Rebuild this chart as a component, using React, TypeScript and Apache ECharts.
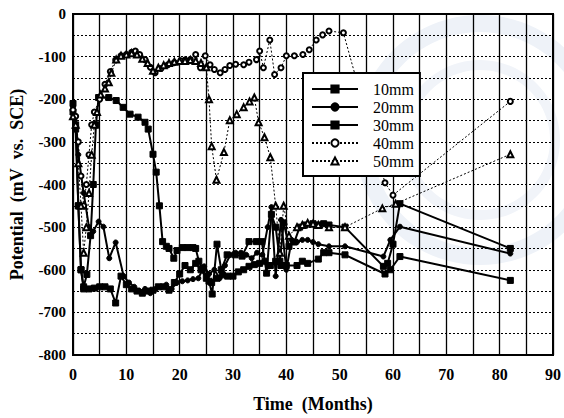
import React, { useEffect, useRef } from "react";
import * as echarts from "echarts";

const seriesNames = ["10mm", "20mm", "30mm", "40mm", "50mm"];
const xTicks = [0, 10, 20, 30, 40, 50, 60, 70, 80, 90];
const yTicks = [0, -100, -200, -300, -400, -500, -600, -700, -800];

const s10: [number, number][] = [
  [0, -210], [0.5, -260], [1, -450], [1.5, -600], [2, -645], [3, -645], [4, -643], [5, -640], [6, -640],
  [7, -645], [8, -678], [9, -615], [10, -635], [11, -645], [12, -650], [13, -655], [14, -650], [15, -648],
  [16, -640], [17, -640], [18, -648], [19, -630], [20, -610], [21, -590], [22, -600], [23, -585], [24, -600],
  [25, -620], [26, -630], [27, -620], [28, -612], [29, -615], [30, -615], [31, -605], [32, -600], [33, -592],
  [34, -588], [35, -585], [36, -580], [37, -590], [38, -580], [39, -590], [40, -590], [42, -590], [43, -580],
  [44, -585], [46, -575], [47, -560], [48, -560], [51, -565], [58.5, -610], [59.5, -600], [61.3, -569], [82, -625],
];

const s20: [number, number][] = [
  [0, -220], [0.5, -240], [1, -330], [2, -420], [3, -500], [3.8, -510], [4.8, -487], [5.7, -499], [6.8, -573],
  [8, -536], [9.5, -615], [10.5, -630], [11.5, -640], [12.5, -650], [13.5, -645], [14.5, -655], [15.5, -645],
  [16.5, -640], [17.5, -635], [18.5, -645], [19.5, -630], [20.5, -627], [21.5, -625], [22.5, -622], [23.5, -620],
  [24.6, -592], [25.5, -610], [26.5, -600], [27.5, -620], [28.5, -590], [29.5, -565], [30.5, -560], [31.5, -560],
  [32.5, -565], [33.5, -573], [34.5, -560], [35.5, -565], [36.5, -500], [37.2, -453], [38, -615], [39, -483],
  [40, -600], [41, -530], [42, -535], [43, -530], [44, -530], [45, -535], [46, -540], [48, -545], [51, -545],
  [58.2, -569], [59.5, -530], [61.3, -499], [82, -562],
];

const s30: [number, number][] = [
  [0, -230], [0.5, -270], [1, -450], [1.5, -600], [2, -640], [2.6, -611], [3.3, -520], [3.8, -400], [4.3, -260],
  [4.8, -196], [6.7, -196], [8.1, -203], [9.4, -219], [10.7, -235], [12.2, -242], [13.5, -254], [14.1, -270],
  [15, -329], [15.6, -371], [16.2, -450], [16.8, -534], [17.5, -545], [18, -550], [18.9, -573], [19.5, -555],
  [20.5, -548], [21.5, -548], [22.5, -548], [23, -550], [23.6, -580], [24.3, -597], [25.5, -627], [26.1, -657],
  [27, -540], [27.8, -600], [28.9, -565], [30.4, -565], [31.7, -568], [33, -534], [34.4, -534], [35.4, -534],
  [36.3, -608], [37.2, -470], [38, -500], [38.8, -580], [39.5, -490], [40.5, -545], [41.5, -535], [42.5, -500],
  [43.5, -495], [45, -492], [46, -495], [47, -492], [48, -495], [51, -500], [58.2, -592], [59, -585], [60, -540],
  [61.3, -445], [82, -550],
];

const s40: [number, number][] = [
  [0, -225], [0.5, -240], [1, -300], [1.5, -380], [2, -450], [2.5, -400], [3, -330], [3.5, -260], [4, -230],
  [5, -200], [6, -165], [7, -135], [8, -108], [9, -98], [10, -95], [11, -90], [11.7, -87], [12.5, -95],
  [13.5, -107], [14.5, -125], [15.4, -138], [16.5, -128], [17.8, -119], [19, -114], [20.2, -110], [21, -108],
  [22, -107], [23, -95], [23.9, -126], [24.8, -98], [25.7, -119], [26.5, -130], [27.6, -138], [28.5, -130],
  [29.4, -121], [30.5, -118], [32, -119], [33, -113], [34.4, -107], [35, -87], [35.7, -126], [36.9, -61],
  [37.8, -142], [39, -126], [40, -98], [41.5, -98], [43.1, -95], [44.3, -84], [45.6, -61], [46.8, -49],
  [48, -40], [50.7, -44], [58.5, -396], [60, -425], [82, -205],
];

const s50: [number, number][] = [
  [0, -240], [0.5, -260], [1, -350], [1.5, -450], [2, -560], [2.5, -500], [3, -420], [3.5, -330], [4, -260],
  [4.5, -230], [5.2, -189], [6, -175], [6.7, -160], [7.2, -138], [8.1, -107], [9, -98], [10, -95], [11, -92],
  [12, -95], [13, -105], [14, -115], [15, -133], [16, -126], [17, -120], [18, -115], [19, -112], [20, -110],
  [21, -110], [22, -108], [23, -110], [24, -115], [25, -125], [25.5, -200], [26, -310], [26.9, -389],
  [28.3, -324], [29.4, -249], [30.7, -235], [32, -219], [33.1, -205], [34, -196], [34.8, -254], [35.9, -289],
  [37, -336], [38, -450], [38.8, -560], [39.5, -450], [40.5, -520], [42, -500], [43, -495], [44, -490],
  [45, -492], [46, -495], [48, -500], [51, -500], [58, -456], [60.5, -445], [82, -329],
];

const FONT = "Liberation Serif";

export default function App() {
  const ref = useRef<HTMLDivElement>(null);
  useEffect(() => {
    if (!ref.current) return;
    const chart = echarts.init(ref.current, undefined, { renderer: "svg" });
    const solid = { color: "#000", width: 2 };
    const dotted = { color: "#000", width: 1, type: [2, 2] as number[] };
    const mk = (name: string, data: [number, number][], symbol: string, size: number, line: any) => ({
      name,
      type: "line",
      data,
      symbol,
      symbolSize: size,
      showSymbol: true,
      lineStyle: line,
      itemStyle: { color: "#000", borderColor: "#000", borderWidth: 1 },
      emphasis: { disabled: true },
    });
    chart.setOption({
      animation: false,
      backgroundColor: "#fff",
      textStyle: { fontFamily: FONT },
      graphic: [
        {
          type: "ring",
          z: -10,
          silent: true,
          shape: { cx: 480, cy: 140, r: 125, r0: 108 },
          style: { fill: "#eef2f8" },
        },
        {
          type: "ring",
          z: -10,
          silent: true,
          shape: { cx: 480, cy: 140, r: 80, r0: 70 },
          style: { fill: "#f1f4f9" },
        },
      ],
      grid: { left: 72, top: 14, right: 6, bottom: 60, show: true, borderColor: "#000", borderWidth: 2, backgroundColor: "transparent" },
      legend: {
        data: seriesNames,
        orient: "vertical",
        left: 303,
        top: 73,
        itemWidth: 46,
        itemHeight: 9,
        itemGap: 2,
        padding: [8, 6, 7, 8],
        backgroundColor: "#fff",
        borderColor: "#000",
        borderWidth: 2,
        borderRadius: 0,
        selectedMode: false,
        textStyle: { fontFamily: FONT, fontSize: 16, color: "#000", lineHeight: 12, padding: [0, 0, 0, 10] },
      },
      xAxis: {
        type: "value",
        min: 0,
        max: 90,
        interval: 10,
        name: "Time\u00a0\u00a0(Months)",
        nameLocation: "middle",
        nameGap: 40,
        nameTextStyle: { fontFamily: FONT, fontSize: 18, fontWeight: "bold", color: "#000" },
        axisLine: { show: true, lineStyle: { color: "#000", width: 2 } },
        axisTick: { show: false },
        axisLabel: {
          margin: 11,
          fontFamily: FONT,
          fontSize: 16,
          fontWeight: "bold",
          color: "#000",
          formatter: (v: number) => (xTicks.includes(v) ? String(v) : ""),
        },
        splitLine: { show: true, lineStyle: { color: "#000", width: 1.3 } },
        minorTick: { show: false, splitNumber: 2 },
        minorSplitLine: { show: true, lineStyle: { color: "#000", width: 1.3 } },
      },
      yAxis: {
        type: "value",
        min: -800,
        max: 0,
        interval: 100,
        name: "Potential\u00a0\u00a0(mV\u00a0\u00a0vs.\u00a0\u00a0SCE)",
        nameLocation: "middle",
        nameGap: 47,
        nameTextStyle: { fontFamily: FONT, fontSize: 18, fontWeight: "bold", color: "#000" },
        axisLine: { show: true, lineStyle: { color: "#000", width: 2 } },
        axisTick: { show: false },
        axisLabel: {
          margin: 7,
          fontFamily: FONT,
          fontSize: 15,
          fontWeight: "bold",
          color: "#000",
          formatter: (v: number) => (yTicks.includes(v) ? String(v) : ""),
        },
        splitLine: { show: true, lineStyle: { color: "#000", width: 1, type: [2, 2] } },
        minorTick: { show: false, splitNumber: 2 },
        minorSplitLine: { show: true, lineStyle: { color: "#000", width: 1, type: [2, 2] } },
      },
      series: [
        mk("10mm", s10, "rect", 6, solid),
        mk("20mm", s20, "circle", 5, solid),
        mk("30mm", s30, "rect", 6, solid),
        mk("40mm", s40, "emptyCircle", 5, dotted),
        mk("50mm", s50, "emptyTriangle", 6, dotted),
      ],
    });
    return () => chart.dispose();
  }, []);
  return <div ref={ref} style={{ width: 564, height: 418, position: "absolute", left: 0, top: 0 }} />;
}
